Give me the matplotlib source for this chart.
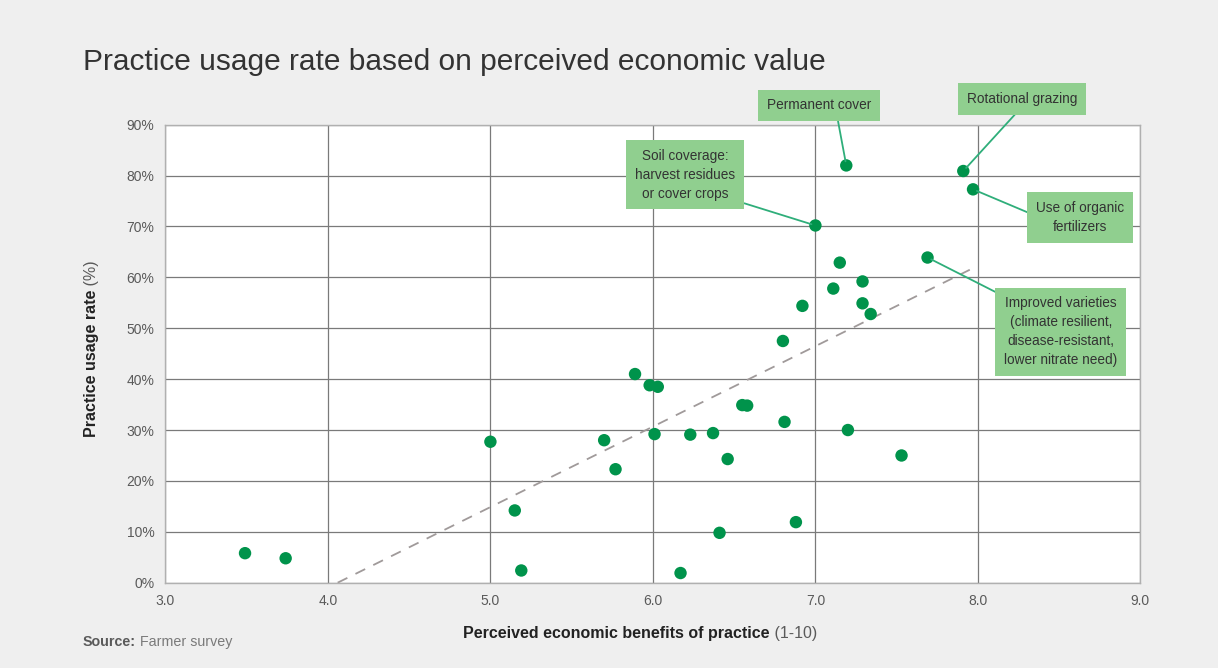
import matplotlib
matplotlib.use('Agg')
import matplotlib.pyplot as plt
from matplotlib.ticker import MultipleLocator, FuncFormatter

plt.rcParams.update({
    'font.family': ['Liberation Sans', 'DejaVu Sans'],
    'font.size': 10,
})

# Perceived economic benefit (1-10) vs usage rate (%)
benefit = [3.49, 3.74, 5.00, 5.15, 5.19, 5.70, 5.77, 5.89, 5.98, 6.03,
           6.01, 6.23, 6.37, 6.46, 6.55, 6.58, 6.41, 6.17, 6.80, 6.81,
           6.92, 7.00, 6.88, 7.15, 7.11, 7.19, 7.20, 7.29, 7.29, 7.34,
           7.53, 7.69, 7.91, 7.97]
usage = [5.8, 4.8, 27.7, 14.2, 2.4, 28.0, 22.3, 41.0, 38.8, 38.5,
         29.2, 29.1, 29.4, 24.3, 34.9, 34.8, 9.8, 1.9, 47.5, 31.6,
         54.4, 70.2, 11.9, 62.9, 57.8, 82.0, 30.0, 59.2, 54.9, 52.8,
         25.0, 63.9, 80.9, 77.3]

# trend line end points
trend_x = [4.06, 7.95]
trend_y = [0.0, 61.5]

# labelled practices: index into the arrays above
labels = {
    25: 'Permanent cover',
    32: 'Rotational grazing',
    21: 'Soil coverage:\nharvest residues\nor cover crops',
    33: 'Use of organic\nfertilizers',
    31: 'Improved varieties\n(climate resilient,\ndisease-resistant,\nlower nitrate need)',
}

# label box placement (data coords of box centre, relpos of connector start)
label_layout = {
    25: ((7.02, 93.8), (0.67, 0.0)),
    32: ((8.27, 95.1), (0.51, 0.0)),
    21: ((6.20, 80.2), (1.0, 0.0)),
    33: ((8.63, 71.8), (0.0, 0.54)),
    31: ((8.51, 49.3), (0.0, 1.0)),
}

dot_green = '#00934b'
box_green = '#90cf8f'
link_green = '#2fae7a'
grid_grey = '#7a7a7a'
text_grey = '#5a5a5a'

fig = plt.figure(figsize=(12.18, 6.68), dpi=100, facecolor='#efefef')
ax = fig.add_axes([0.1358, 0.1277, 0.8005, 0.6856])
ax.set_facecolor('white')

ax.set_xlim(3, 9)
ax.set_ylim(0, 90)
ax.xaxis.set_major_locator(MultipleLocator(1))
ax.yaxis.set_major_locator(MultipleLocator(10))
ax.xaxis.set_major_formatter(FuncFormatter(lambda v, p: f'{v:.1f}'))
ax.yaxis.set_major_formatter(FuncFormatter(lambda v, p: f'{v:.0f}%'))
ax.tick_params(length=0, labelsize=10, colors=text_grey, pad=8)
ax.grid(True, color=grid_grey, linewidth=0.9)
ax.set_axisbelow(True)
for s in ax.spines.values():
    s.set_color('#b0b0b0')
    s.set_linewidth(1.0)

ax.plot(trend_x, trend_y, linestyle=(0, (6, 5)), color='#a09a9a', linewidth=1.3, zorder=2)
ax.scatter(benefit, usage, s=80, color=dot_green, edgecolors='none', zorder=3)

for i, txt in labels.items():
    pos, rel = label_layout[i]
    ax.annotate(txt, xy=(benefit[i], usage[i]), xytext=pos,
                ha='center', va='center', fontsize=9.8, color='#333333',
                linespacing=1.45, annotation_clip=False, zorder=5,
                bbox=dict(boxstyle='square,pad=0.65', fc=box_green, ec='none'),
                arrowprops=dict(arrowstyle='-', color=link_green, lw=1.3,
                                relpos=rel, shrinkA=0, shrinkB=3))

# title
fig.text(0.068, 0.907, 'Practice usage rate based on perceived economic value',
         fontsize=21.5, color='#333333', va='center', ha='left')

# x label: bold part + normal part
xl = fig.text(0.506, 0.051, 'Perceived economic benefits of practice', fontsize=11.5,
              fontweight='bold', color='#222222', ha='center', va='center')
ax.annotate(' (1-10)', xy=(1, 0), xycoords=xl, va='bottom', ha='left',
            fontsize=11.5, color=text_grey)

# y label
yl = fig.text(0.0755, 0.456, 'Practice usage rate', fontsize=11.5, fontweight='bold',
              color='#222222', rotation=90, ha='center', va='center')
ax.annotate(' (%)', xy=(0, 1), xycoords=yl, va='bottom', ha='left', rotation=90,
            fontsize=11.5, color=text_grey)

# source
src = fig.text(0.068, 0.039, 'Source:', fontsize=10.3, fontweight='bold',
               color=text_grey, ha='left', va='center')
ax.annotate(' Farmer survey', xy=(1, 0), xycoords=src, va='bottom', ha='left',
            fontsize=10.3, color='#7a7a7a')

fig.savefig('out.png', dpi=100, facecolor=fig.get_facecolor())
